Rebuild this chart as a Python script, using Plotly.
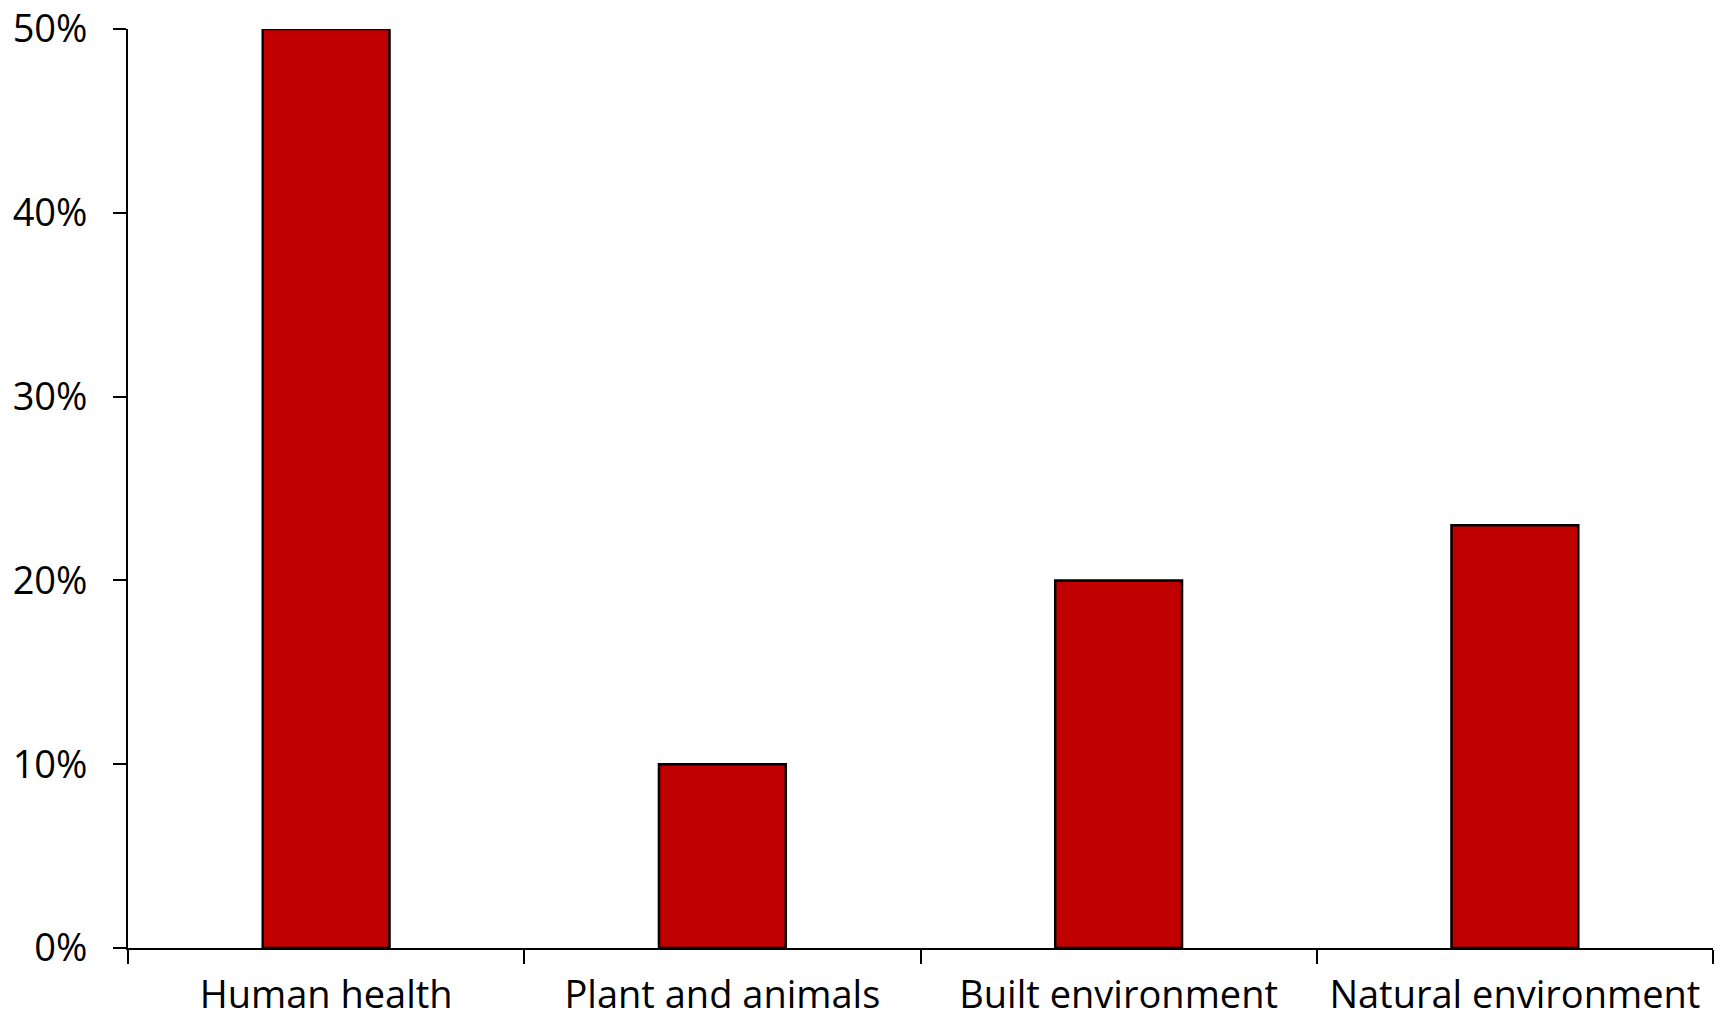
import plotly.graph_objects as go

categories = ["Human health", "Plant and animals", "Built environment", "Natural environment"]
values = [50, 10, 20, 23]
y_ticks = [0, 10, 20, 30, 40, 50]
y_tick_labels = ["0%", "10%", "20%", "30%", "40%", "50%"]

FONT = "Open Sans"
FSIZE = 38

fig = go.Figure(
    go.Bar(
        x=categories,
        y=values,
        width=0.32,
        marker=dict(color="#C00000", line=dict(color="black", width=2.5)),
        cliponaxis=False,
        hoverinfo="skip",
    )
)

fig.update_layout(
    width=1725,
    height=1019,
    margin=dict(l=128, r=12, t=29, b=71),
    paper_bgcolor="white",
    plot_bgcolor="white",
    showlegend=False,
    font=dict(family=FONT, size=FSIZE, color="black"),
)

fig.update_xaxes(
    type="category",
    automargin=False,
    showline=True,
    linecolor="black",
    linewidth=1.8,
    ticks="outside",
    tickson="boundaries",
    ticklen=14,
    tickwidth=1.8,
    tickcolor="black",
    showgrid=False,
    zeroline=False,
    tickfont=dict(family=FONT, size=FSIZE, color="black"),
    ticklabelstandoff=12,
    ticklabeloverflow="allow",
)

fig.update_yaxes(
    range=[0, 50],
    automargin=False,
    tickvals=y_ticks,
    ticktext=y_tick_labels,
    showline=True,
    linecolor="black",
    linewidth=1.8,
    ticks="outside",
    ticklen=13,
    tickwidth=1.8,
    tickcolor="black",
    showgrid=False,
    zeroline=False,
    tickfont=dict(family=FONT, size=FSIZE, color="black"),
    ticklabelstandoff=18,
    ticklabeloverflow="allow",
)

fig.write_html("out.html")
